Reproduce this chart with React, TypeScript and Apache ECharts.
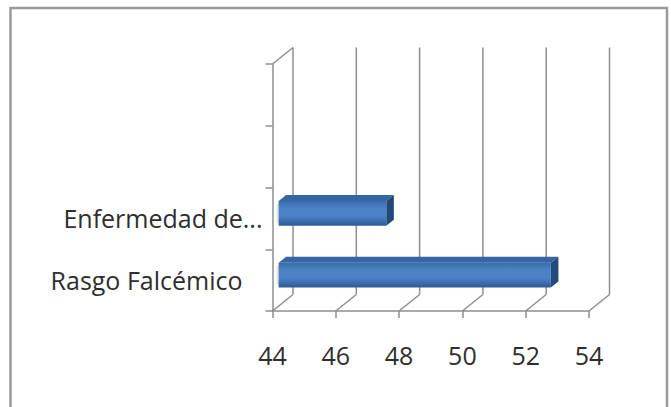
import React, { useEffect, useRef } from "react";
import * as echarts from "echarts";

const categories = ["Rasgo Falcémico", "Enfermedad de...", "", ""];
const values = [52.6, 47.4];
const xTicks = [44, 46, 48, 50, 52, 54];

const FONT = "'Open Sans', sans-serif";
const GRID_COLOR = "#8e8e8e";
const TEXT_COLOR = "#2e2e2e";
const DX = 20.5;
const DY = -16.5;

export default function App() {
  const ref = useRef<HTMLDivElement>(null);
  useEffect(() => {
    if (!ref.current) return;
    const chart = echarts.init(ref.current, undefined, { renderer: "svg" });
    const barData = values.map((v, i) => [v, i]);
    chart.setOption({
      animation: false,
      backgroundColor: "#ffffff",
      graphic: [
        {
          type: "rect",
          shape: { x: 10.5, y: 8, width: 656.5, height: 420 },
          style: { fill: "none", stroke: "#9a9a9a", lineWidth: 2.5 },
          silent: true,
          z: 100,
        },
      ],
      grid: { left: 272.5, right: 82, top: 64, bottom: 96 },
      xAxis: {
        type: "value",
        min: 44,
        max: 54,
        interval: 2,
        splitLine: { show: false },
        axisLine: { show: true, lineStyle: { color: GRID_COLOR, width: 1.5 } },
        axisTick: { show: true, length: 7, lineStyle: { color: GRID_COLOR, width: 1.5 } },
        axisLabel: {
          margin: 31,
          fontFamily: FONT,
          fontSize: 25,
          color: TEXT_COLOR,
          formatter: (v: number) => (xTicks.indexOf(v) >= 0 ? String(v) : ""),
        },
      },
      yAxis: {
        type: "category",
        data: categories,
        boundaryGap: true,
        axisLine: { show: true, lineStyle: { color: GRID_COLOR, width: 1.5 } },
        axisTick: { show: true, length: 7, lineStyle: { color: GRID_COLOR, width: 1.5 } },
        splitLine: { show: false },
        axisLabel: {
          margin: 10,
          fontFamily: FONT,
          fontSize: 25,
          color: TEXT_COLOR,
          formatter: (v: string, i: number) => (i === 0 ? "{r|" + v + "}" : v),
          rich: {
            r: { fontFamily: FONT, fontSize: 25, color: TEXT_COLOR, padding: [0, 20, 0, 0] },
          },
        },
      },
      series: [
        {
          type: "custom",
          z: 1,
          silent: true,
          data: [[44, 0]],
          renderItem: (params: any, api: any) => {
            const cs = params.coordSys;
            const top = cs.y;
            const bottom = cs.y + cs.height;
            const left = cs.x;
            const children: any[] = [];
            const ls = { stroke: GRID_COLOR, lineWidth: 1.5, fill: "none" };
            xTicks.forEach((t) => {
              const x = api.coord([t, 0])[0];
              children.push({
                type: "line",
                shape: { x1: x + DX, y1: top + DY, x2: x + DX, y2: bottom + DY },
                style: ls,
              });
              children.push({
                type: "line",
                shape: { x1: x, y1: bottom, x2: x + DX, y2: bottom + DY },
                style: ls,
              });
            });
            children.push({
              type: "line",
              shape: { x1: left, y1: top, x2: left + DX, y2: top + DY },
              style: ls,
            });
            return { type: "group", children };
          },
        },
        {
          type: "custom",
          z: 2,
          data: barData,
          renderItem: (params: any, api: any) => {
            const v = api.value(0);
            const idx = api.value(1);
            const end = api.coord([v, idx]);
            const start = api.coord([44, idx]);
            const band = api.size([0, 1])[1];
            const h = band * 0.4;
            const fx = DX * 0.3;
            const fy = DY * 0.3;
            const bx = DX * 0.67;
            const by = DY * 0.67;
            const x0 = start[0] + fx;
            const x1 = end[0] + fx;
            const yt = end[1] - h / 2 + fy;
            const yb = end[1] + h / 2 + fy;
            const ddx = bx - fx;
            const ddy = by - fy;
            return {
              type: "group",
              children: [
                {
                  type: "polygon",
                  shape: {
                    points: [
                      [x0 + ddx - 2, yt + ddy],
                      [x0 + ddx + 2, yt + ddy],
                      [x0 + 2, yt],
                      [x0 - 2, yt + 4],
                      [x0 - 2, yb - 2],
                      [x0 + ddx - 2, yb + ddy],
                    ],
                  },
                  style: { fill: "#e4e4e4" },
                },
                {
                  type: "polygon",
                  shape: {
                    points: [
                      [x0, yt],
                      [x1, yt],
                      [x1 + ddx, yt + ddy],
                      [x0 + ddx, yt + ddy],
                    ],
                  },
                  style: { fill: "#3566a3" },
                },
                {
                  type: "polygon",
                  shape: {
                    points: [
                      [x1, yt],
                      [x1 + ddx, yt + ddy],
                      [x1 + ddx, yb + ddy],
                      [x1, yb],
                    ],
                  },
                  style: { fill: "#21497a" },
                },
                {
                  type: "rect",
                  shape: { x: x0, y: yt, width: x1 - x0, height: yb - yt },
                  style: {
                    fill: new echarts.graphic.LinearGradient(0, 0, 0, 1, [
                      { offset: 0, color: "#3a6cab" },
                      { offset: 0.3, color: "#4c83c5" },
                      { offset: 0.6, color: "#4c83c5" },
                      { offset: 1, color: "#2c5b95" },
                    ]),
                  },
                },
              ],
            };
          },
        },
      ],
    });
    return () => chart.dispose();
  }, []);
  return (
    <div style={{ position: "absolute", left: 0, top: 0, width: 671, height: 407 }}>
      <div ref={ref} style={{ width: 671, height: 407 }} />
    </div>
  );
}
